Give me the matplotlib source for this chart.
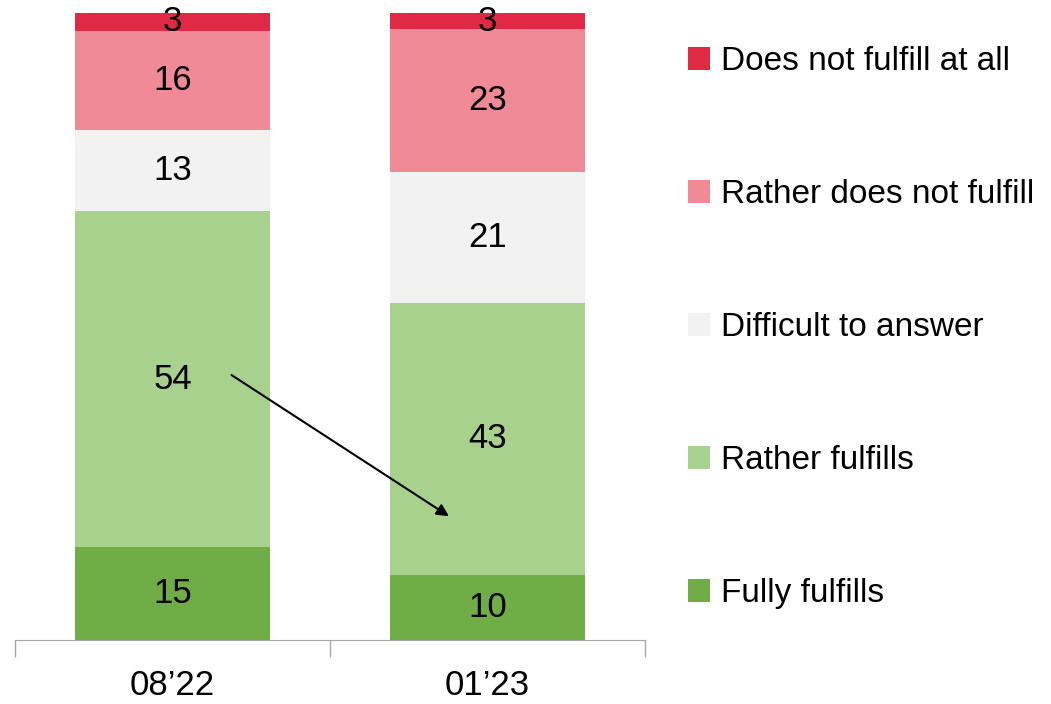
import matplotlib.pyplot as plt
import numpy as np

plt.rcParams['font.family'] = ['Liberation Sans', 'DejaVu Sans']

periods = ['08\u201922', '01\u201923']
categories = ['Fully fulfills', 'Rather fulfills', 'Difficult to answer',
              'Rather does not fulfill', 'Does not fulfill at all']
# shares in % (labels are the rounded values)
fully = [14.8, 10.4]
rather = [53.6, 43.4]
difficult = [12.9, 20.9]
rather_not = [15.9, 22.7]
not_at_all = [2.8, 2.6]
colors = ['#70AD47', '#A9D18E', '#F2F2F2', '#F08A97', '#E02A45']

values = np.array([fully, rather, difficult, rather_not, not_at_all])

fig = plt.figure(figsize=(10.51, 7.04), dpi=100)
ax = fig.add_axes([0.0143, 0.0909, 0.5994, 0.8906])

x = np.arange(len(periods))
bottom = np.zeros(len(periods))
for i, cat in enumerate(categories):
    ax.bar(x, values[i], 0.62, bottom=bottom, color=colors[i], label=cat, zorder=2)
    for j in range(len(periods)):
        ax.text(x[j], bottom[j] + values[i][j] / 2, f'{round(values[i][j])}',
                ha='center', va='center', fontsize=25, color='black', zorder=3)
    bottom += values[i]

# arrow showing the drop in "Rather fulfills"
ax.annotate('', xy=(0.885, 19.5), xytext=(0.18, 42.5),
            arrowprops=dict(arrowstyle='-|>', color='black', lw=1.5, mutation_scale=18),
            zorder=4)

ax.set_xlim(-0.5, 1.5)
ax.set_ylim(0, 100)
ax.set_xticks(x)
ax.set_xticklabels(periods, fontsize=25)
ax.set_xticks([-0.5, 0.5, 1.5], minor=True)
ax.tick_params(axis='x', which='major', length=0, pad=21)
ax.tick_params(axis='x', which='minor', length=12, color='#A6A6A6', width=1)
ax.set_yticks([])
for s in ['top', 'right', 'left']:
    ax.spines[s].set_visible(False)
ax.spines['bottom'].set_color('#A6A6A6')

handles, labels = ax.get_legend_handles_labels()
fig.legend(handles[::-1], labels[::-1], loc='upper left', bbox_to_anchor=(0.6415, 0.953),
           frameon=False, fontsize=24, handlelength=0.66, handleheight=0.66,
           handletextpad=0.35, labelspacing=3.06, borderaxespad=0)

fig.savefig('out.png', dpi=100)
